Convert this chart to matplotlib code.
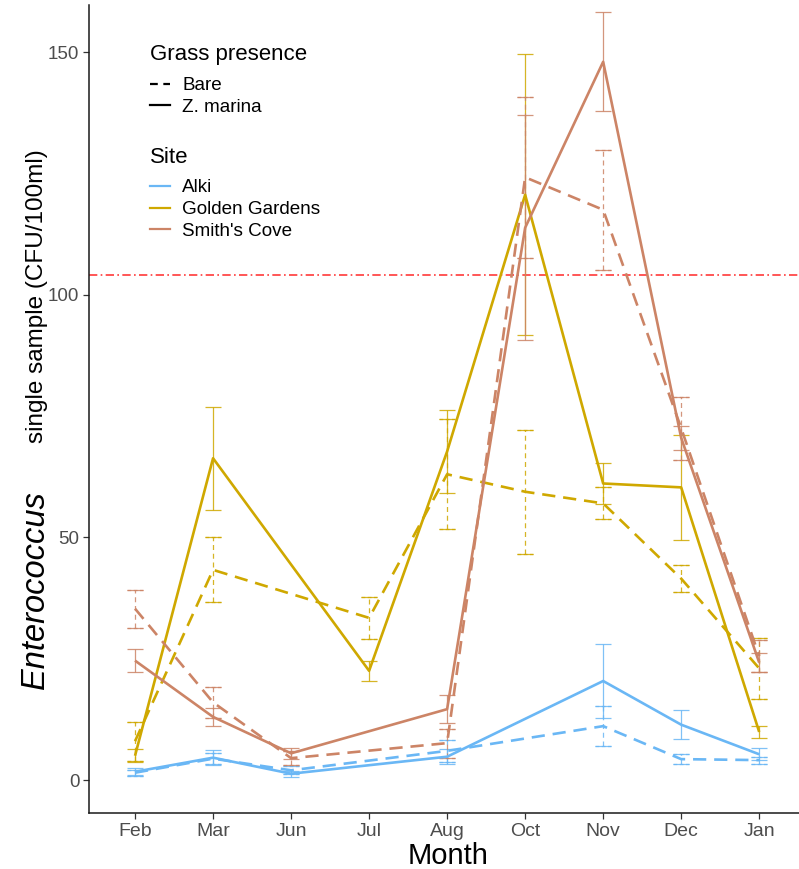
import numpy as np
import matplotlib
matplotlib.use("Agg")
import matplotlib.pyplot as plt
from matplotlib.lines import Line2D

nan = np.nan

months = ["Feb", "Mar", "Jun", "Jul", "Aug", "Oct", "Nov", "Dec", "Jan"]

# Mean Enterococcus counts (CFU/100ml) and standard errors per site and grass presence
alki_zm = [1.7, 4.6, 1.3, nan, 4.8, nan, 20.4, 11.4, 5.3]
alki_zm_se = [0.7, 1.5, 0.6, nan, 1.5, nan, 7.6, 3.0, 1.2]
alki_bare = [1.5, 4.4, 2.0, nan, 6.0, nan, 11.1, 4.3, 4.1]
alki_bare_se = [0.6, 1.2, 0.8, nan, 2.3, nan, 4.1, 1.0, 0.7]

gg_zm = [5.0, 66.3, nan, 22.5, 67.7, 120.6, 61.1, 60.3, 9.9]
gg_zm_se = [1.3, 10.6, nan, 2.1, 8.5, 29.0, 4.2, 10.8, 1.3]
gg_bare = [8.0, 43.3, nan, 33.4, 63.0, 59.4, 57.0, 41.5, 23.0]
gg_bare_se = [4.0, 6.7, nan, 4.3, 11.3, 12.8, 3.3, 2.8, 6.3]

sc_zm = [24.6, 13.0, 5.5, nan, 14.6, 113.8, 148.0, 70.5, 24.2]
sc_zm_se = [2.3, 1.9, 1.1, nan, 2.9, 23.2, 10.2, 2.5, 2.0]
sc_bare = [35.3, 16.0, 4.5, nan, 7.6, 124.2, 117.5, 72.5, 25.5]
sc_bare_se = [3.9, 3.2, 1.5, nan, 3.0, 16.6, 12.4, 6.5, 3.3]

threshold = 104

sites = ["Alki", "Golden Gardens", "Smith's Cove"]
site_colors = {"Alki": "#6ab7f5", "Golden Gardens": "#cfa800", "Smith's Cove": "#cc8466"}

series = [
    ("Alki", "Bare", alki_bare, alki_bare_se),
    ("Alki", "Z. marina", alki_zm, alki_zm_se),
    ("Golden Gardens", "Bare", gg_bare, gg_bare_se),
    ("Golden Gardens", "Z. marina", gg_zm, gg_zm_se),
    ("Smith's Cove", "Bare", sc_bare, sc_bare_se),
    ("Smith's Cove", "Z. marina", sc_zm, sc_zm_se),
]

FONT = "Liberation Sans"
W, H = 799, 869
fig = plt.figure(figsize=(W / 100, H / 100), dpi=100)
ax = fig.add_axes([89 / W, 1 - 813 / H, (W - 89) / W, (813 - 5) / H])

x = np.arange(len(months))
line_dash = (0, (5, 3))
bar_dash = (0, (4, 3))

for site, grass, vals, se in series:
    v = np.array(vals, dtype=float)
    e = np.array(se, dtype=float)
    m = ~np.isnan(v)
    col = site_colors[site]
    ls = "-" if grass == "Z. marina" else line_dash
    ax.plot(x[m], v[m], color=col, lw=1.9, linestyle=ls, zorder=3,
            solid_capstyle="butt", dash_capstyle="butt")
    eb = ax.errorbar(x[m], v[m], yerr=e[m], fmt="none", ecolor=col, elinewidth=0.9,
                     capsize=5.5, capthick=0.9, alpha=0.85, zorder=2)
    if grass == "Bare":
        for coll in eb[2]:
            coll.set_linestyle(bar_dash)
        for cap in eb[1]:
            cap.set_linestyle("none")
        # dashed caps drawn as short segments
        for xi, yi, ei in zip(x[m], v[m], e[m]):
            for yy in (yi - ei, yi + ei):
                ax.plot([xi - 0.1, xi + 0.1], [yy, yy], color=col, lw=0.9,
                        linestyle=(0, (3, 2)), alpha=0.85, zorder=2)

ax.axhline(threshold, color="#ff3a3a", lw=1.2, linestyle=(0, (5, 2, 1, 2)), zorder=1)

ax.set_xlim(-0.59, 8.51)
ax.set_ylim(-6.8, 159.7)
ax.set_xticks(x)
ax.set_xticklabels(months)
ax.set_yticks([0, 50, 100, 150])
for s in ("top", "right"):
    ax.spines[s].set_visible(False)
for s in ("left", "bottom"):
    ax.spines[s].set_linewidth(1.1)
    ax.spines[s].set_color("#1a1a1a")
ax.tick_params(axis="both", length=4, width=0.9, color="#333333",
               labelcolor="#4d4d4d", labelsize=14, pad=3)
ax.tick_params(axis="y", labelsize=13.5)
for lab in ax.get_xticklabels() + ax.get_yticklabels():
    lab.set_fontfamily(FONT)

# axis titles
fig.text(448 / W, 1 - 864 / H, "Month", fontsize=21, family=FONT, ha="center",
         va="baseline")
fig.text(44 / W, 1 - 590 / H, "Enterococcus", fontsize=23.5, family=FONT,
         style="italic", rotation=90, rotation_mode="anchor", ha="center",
         va="baseline")
fig.text(43 / W, 1 - 296 / H, "single sample (CFU/100ml)", fontsize=17.5,
         family=FONT, rotation=90, rotation_mode="anchor", ha="center",
         va="baseline")

# legends
def px(xp, yp):
    return xp / W, 1 - yp / H

fig.text(*px(150, 60), "Grass presence", fontsize=16, family=FONT, va="baseline")
fig.text(*px(150, 163), "Site", fontsize=16, family=FONT, va="baseline")

grass_items = [("Bare", line_dash, 84), ("Z. marina", "-", 105)]
for label, ls, yp in grass_items:
    x0, y0 = px(150, yp)
    x1, _ = px(170, yp)
    fig.add_artist(Line2D([x0, x1], [y0, y0], color="black", lw=1.6,
                          linestyle=(0, (3.5, 2.5)) if label == "Bare" else "-",
                          transform=fig.transFigure))
    fig.text(*px(182, yp), label, fontsize=13.6, family=FONT, va="center_baseline")

for site, yp in zip(sites, [186, 208, 229]):
    x0, y0 = px(150, yp)
    x1, _ = px(170, yp)
    fig.add_artist(Line2D([x0, x1], [y0, y0], color=site_colors[site], lw=1.6,
                          transform=fig.transFigure))
    fig.text(*px(182, yp), site, fontsize=13.6, family=FONT, va="center_baseline")

fig.savefig("out.png", dpi=100, facecolor="white")
